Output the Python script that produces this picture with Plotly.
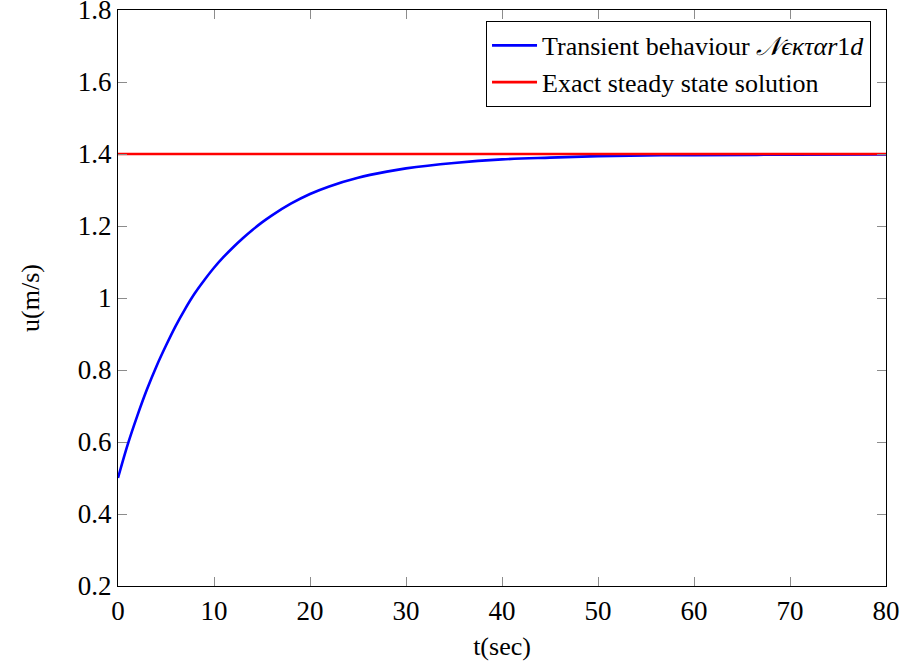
import plotly.graph_objects as go

# Data
t_sec = [0, 1, 2, 3, 4, 5, 6, 7, 8, 9, 10, 11, 12, 13, 14, 15, 16, 18, 20, 22, 25, 28, 30,
         35, 40, 45, 50, 55, 60, 70, 80]
u_transient = [0.50, 0.592, 0.672, 0.745, 0.81, 0.868, 0.922, 0.97, 1.013, 1.05,
               1.084, 1.114, 1.141, 1.166, 1.189, 1.21, 1.229, 1.262, 1.289, 1.31,
               1.334, 1.351, 1.36, 1.375, 1.385, 1.39, 1.394, 1.396, 1.397, 1.398, 1.399]
t_exact = [0, 80]
u_exact = [1.4, 1.4]

x_ticks = [0, 10, 20, 30, 40, 50, 60, 70, 80]
y_ticks = [0.2, 0.4, 0.6, 0.8, 1.0, 1.2, 1.4, 1.6, 1.8]
y_tick_text = ["0.2", "0.4", "0.6", "0.8", "1", "1.2", "1.4", "1.6", "1.8"]

FONT = "Liberation Serif"
FS = 27

fig = go.Figure()
fig.add_trace(go.Scatter(
    x=t_sec, y=u_transient, mode="lines", line=dict(color="#0000ff", width=2.6, shape="spline"),
    name="Transient behaviour <i>𝒩ϵκταr</i>1<i>d</i>"))
fig.add_trace(go.Scatter(
    x=t_exact, y=u_exact, mode="lines", line=dict(color="#ff0000", width=2.6),
    name="Exact steady state solution"))

axis_common = dict(
    showgrid=False, zeroline=False, showline=True, linecolor="black", linewidth=1.3,
    mirror="ticks", ticks="inside", ticklen=9, tickcolor="#8c8c8c", tickwidth=1,
    tickfont=dict(family=FONT, size=FS, color="black"),
    ticklabeloverflow="allow",
)
fig.update_xaxes(range=[0, 80], tickvals=x_ticks, ticktext=[str(v) for v in x_ticks],
                 title=dict(text="t(sec)", font=dict(family=FONT, size=FS - 1, color="black"), standoff=12),
                 **axis_common)
fig.update_yaxes(range=[0.2, 1.8], tickvals=y_ticks, ticktext=y_tick_text,
                 title=dict(text="u(m/s)", font=dict(family=FONT, size=FS - 1, color="black"), standoff=30),
                 **axis_common)

fig.update_layout(
    width=903, height=666,
    margin=dict(l=118, r=17, t=10, b=80, autoexpand=False),
    plot_bgcolor="white", paper_bgcolor="white",
    font=dict(family=FONT, size=FS, color="black"),
    legend=dict(x=0.9805, y=0.981, xanchor="right", yanchor="top",
                bordercolor="black", borderwidth=1, bgcolor="white",
                font=dict(family=FONT, size=26, color="black"),
                tracegroupgap=0, itemwidth=45),
    showlegend=True,
)

fig.write_html("out.html")
